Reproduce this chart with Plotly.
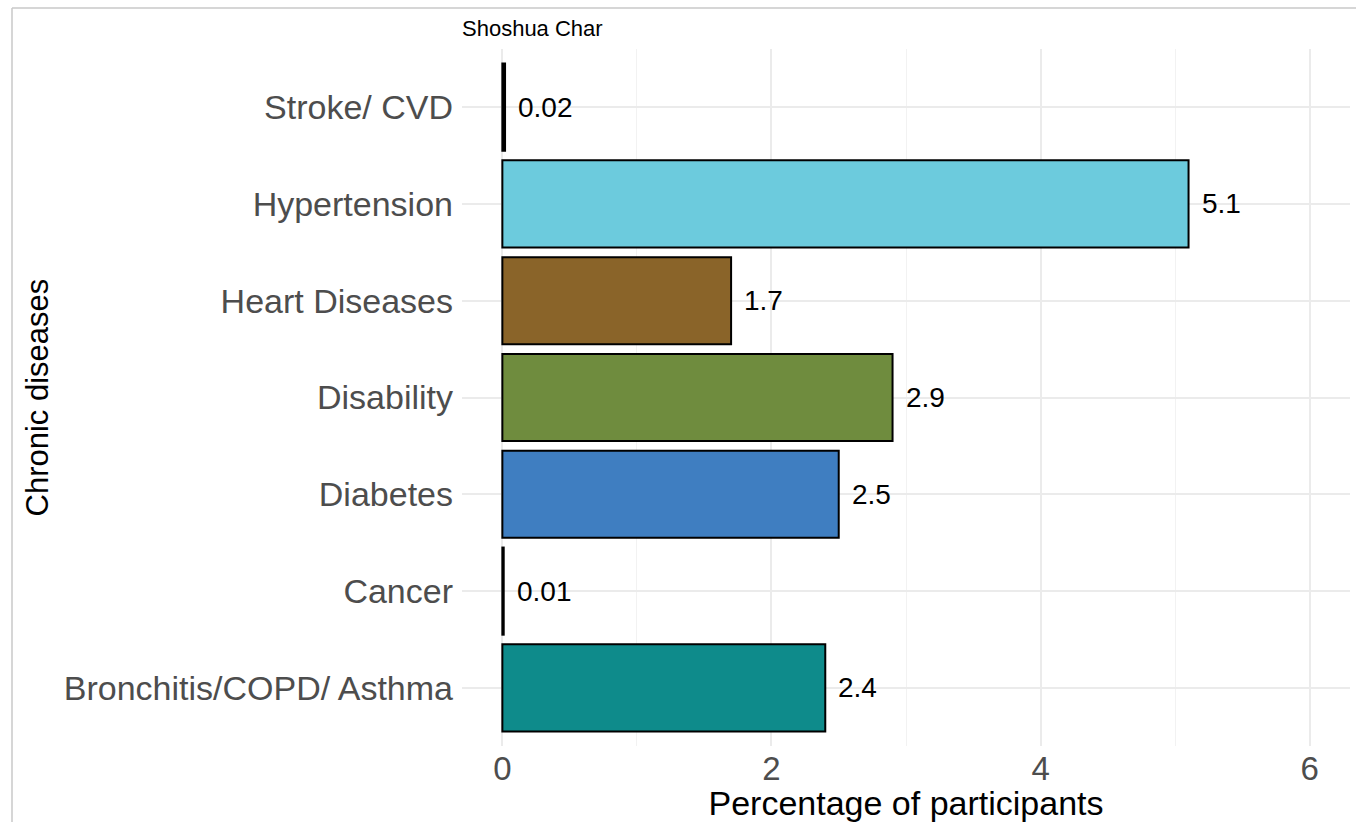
import plotly.graph_objects as go

categories = ["Stroke/ CVD", "Hypertension", "Heart Diseases", "Disability",
              "Diabetes", "Cancer", "Bronchitis/COPD/ Asthma"]
values = [0.02, 5.1, 1.7, 2.9, 2.5, 0.01, 2.4]
value_labels = ["0.02", "5.1", "1.7", "2.9", "2.5", "0.01", "2.4"]
colors = ["#000000", "#6CCBDD", "#8A6429", "#6F8C3E", "#3F7EC1", "#000000", "#0E8B8B"]
x_ticks = [0, 2, 4, 6]

W, H = 1356, 822
L, R, T, B = 462, 6, 49, 76
pw, ph = W - L - R, H - T - B

fig = go.Figure()
fig.add_trace(go.Bar(
    y=categories, x=values, orientation="h", width=0.9,
    marker=dict(color=colors, line=dict(color="#000000", width=2)),
    hoverinfo="x+y", showlegend=False,
))

for c, v, t in zip(categories, values, value_labels):
    fig.add_annotation(x=v, y=c, text=t, showarrow=False, xanchor="left",
                       yanchor="middle", xshift=11,
                       font=dict(family="Liberation Sans, Arial", size=28, color="#000000"))

def px2x(px):
    return (px - L) / pw

def py2y(py):
    return (H - B - py) / ph

# y-axis title
fig.add_annotation(x=px2x(37), y=0.5, xref="paper", yref="paper", text="Chronic diseases",
                   textangle=-90, showarrow=False, xanchor="center", yanchor="middle",
                   font=dict(family="Liberation Sans, Arial", size=31, color="#000000"))

border = dict(color="#C8C8C8", width=1.5)
fig.add_shape(type="line", xref="paper", yref="paper", x0=px2x(12), x1=px2x(W), y0=py2y(8), y1=py2y(8), line=border)
fig.add_shape(type="line", xref="paper", yref="paper", x0=px2x(12), x1=px2x(12), y0=py2y(8), y1=py2y(H), line=border)

fig.update_layout(
    width=W, height=H,
    margin=dict(l=L, r=R, t=T, b=B, autoexpand=False),
    paper_bgcolor="white", plot_bgcolor="white",
    font=dict(family="Liberation Sans, Arial", color="#000000"),
    title=dict(text="Shoshua Char", x=0, xref="paper", xanchor="left",
               y=1 - 28 / H, yanchor="middle",
               font=dict(family="Liberation Sans, Arial", size=22, color="#000000")),
    bargap=0.1,
)
fig.update_xaxes(
    range=[-0.3, 6.3], tickvals=x_ticks, ticktext=[str(t) for t in x_ticks],
    showgrid=True, gridcolor="#EBEBEB", gridwidth=2, zeroline=False,
    showline=False, ticks="",
    tickfont=dict(size=33, color="#4D4D4D"),
    minor=dict(tickvals=[1, 3, 5], showgrid=True, gridcolor="#F2F2F2", gridwidth=1, ticks=""),
    title=dict(text="Percentage of participants", standoff=4,
               font=dict(size=34, color="#000000")),
)
fig.update_yaxes(
    categoryorder="array", categoryarray=categories[::-1],
    range=[-0.6, 6.6],
    showgrid=True, gridcolor="#EBEBEB", gridwidth=2, zeroline=False,
    showline=False, ticks="", ticklabelstandoff=8,
    tickfont=dict(size=34, color="#4D4D4D"),
)

fig.write_html("out.html", config={"displayModeBar": False},
               post_script="document.body.style.margin='0';document.body.style.overflow='hidden';")
